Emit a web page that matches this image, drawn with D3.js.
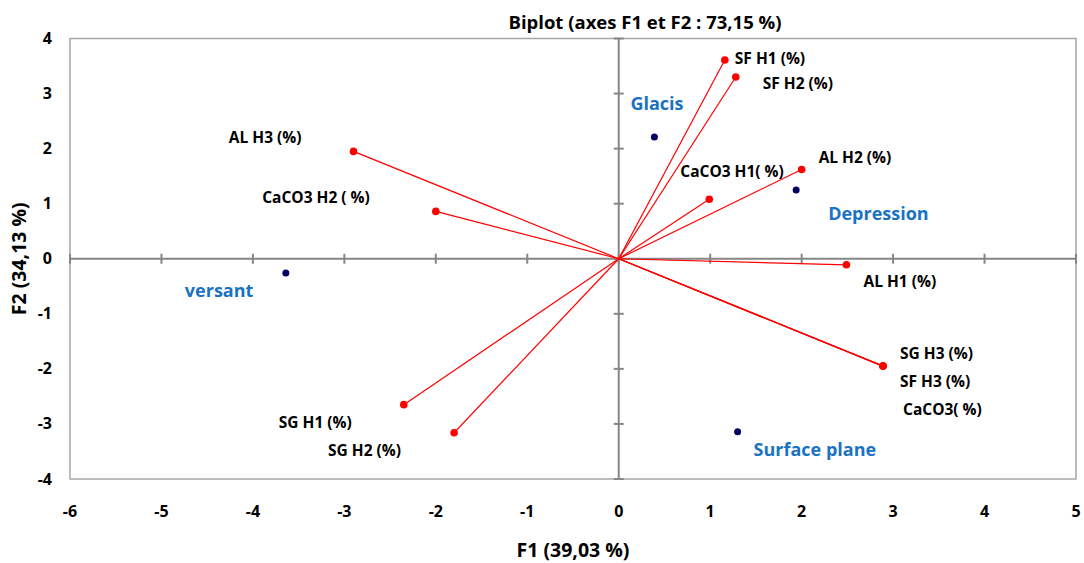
<!DOCTYPE html>
<html>
<head>
<meta charset="utf-8">
<script src="https://cdn.jsdelivr.net/npm/d3@7"></script>
<style>
  body { margin: 0; background: #fff; }
  svg text { font-family: "Open Sans", Lato, sans-serif; font-weight: bold; }
</style>
</head>
<body>
<svg id="chart" width="1084" height="563"></svg>
<script>
// variables (red vectors)
const varNames = ["SF H1 (%)", "SF H2 (%)", "AL H3 (%)", "CaCO3 H2 ( %)", "CaCO3 H1( %)", "AL H2 (%)",
  "AL H1 (%)", "SG H3 (%)", "SF H3 (%)", "CaCO3( %)", "SG H1 (%)", "SG H2 (%)"];
const varF1 = [1.16, 1.28, -2.90, -2.00, 0.99, 2.00, 2.49, 2.89, 2.89, 2.89, -2.35, -1.80];
const varF2 = [3.61, 3.30, 1.95, 0.86, 1.08, 1.62, -0.11, -1.95, -1.95, -1.95, -2.65, -3.16];

// observations (navy points)
const obsNames = ["Glacis", "Depression", "versant", "Surface plane"];
const obsF1 = [0.39, 1.94, -3.64, 1.30];
const obsF2 = [2.21, 1.25, -0.26, -3.14];

const xTicks = [-6, -5, -4, -3, -2, -1, 0, 1, 2, 3, 4, 5];
const yTicks = [-4, -3, -2, -1, 0, 1, 2, 3, 4];

// label offsets in px (dx, dy, anchor)
const varLabelPos = {
  "SF H1 (%)": [10, 0, "start"],
  "SF H2 (%)": [27, 8, "start"],
  "AL H3 (%)": [-52, -12, "end"],
  "CaCO3 H2 ( %)": [-66, -12, "end"],
  "CaCO3 H1( %)": [-29, -26, "start"],
  "AL H2 (%)": [17, -11, "start"],
  "AL H1 (%)": [17, 18, "start"],
  "SG H3 (%)": [17, -11, "start"],
  "SF H3 (%)": [17, 17, "start"],
  "CaCO3( %)": [20, 45, "start"],
  "SG H1 (%)": [-52, 19, "end"],
  "SG H2 (%)": [-53, 19, "end"]
};
const obsLabelPos = {
  "Glacis": [-24, -32, "start"],
  "Depression": [32, 25, "start"],
  "versant": [-101, 19, "start"],
  "Surface plane": [16, 19, "start"]
};

const margin = { top: 38.5, right: 8, bottom: 84, left: 70 };
const width = 1084, height = 563;

const x = d3.scaleLinear().domain([-6, 5]).range([margin.left, width - margin.right]);
const y = d3.scaleLinear().domain([-4, 4]).range([height - margin.bottom, margin.top]);

const svg = d3.select("#chart");

// plot frame
svg.append("rect")
  .attr("x", x(-6)).attr("y", y(4))
  .attr("width", x(5) - x(-6)).attr("height", y(-4) - y(4))
  .attr("fill", "none").attr("stroke", "#a6a6a6").attr("stroke-width", 1.5);

// zero axes
svg.append("line")
  .attr("x1", x(-6)).attr("x2", x(5)).attr("y1", y(0)).attr("y2", y(0))
  .attr("stroke", "#868686").attr("stroke-width", 2);
svg.append("line")
  .attr("x1", x(0)).attr("x2", x(0)).attr("y1", y(4)).attr("y2", y(-4))
  .attr("stroke", "#868686").attr("stroke-width", 2);

// tick marks crossing the zero axes
svg.selectAll(".xt").data(xTicks).enter().append("line")
  .attr("x1", d => x(d)).attr("x2", d => x(d))
  .attr("y1", y(0) - 5).attr("y2", y(0) + 5)
  .attr("stroke", "#868686").attr("stroke-width", 2);
svg.selectAll(".yt").data(yTicks).enter().append("line")
  .attr("x1", x(0) - 5).attr("x2", x(0) + 5)
  .attr("y1", d => y(d)).attr("y2", d => y(d))
  .attr("stroke", "#868686").attr("stroke-width", 2);

// tick labels
svg.selectAll(".xl").data(xTicks).enter().append("text")
  .attr("x", d => x(d)).attr("y", y(-4) + 38)
  .attr("text-anchor", "middle").attr("font-size", 16)
  .text(d => d);
svg.selectAll(".yl").data(yTicks).enter().append("text")
  .attr("x", 52).attr("y", d => y(d) + 5.5)
  .attr("text-anchor", "end").attr("font-size", 16)
  .text(d => d);

// titles
svg.append("text").attr("x", 645).attr("y", 29)
  .attr("text-anchor", "middle").attr("font-size", 18.5)
  .text("Biplot (axes F1 et F2 : 73,15 %)");
svg.append("text").attr("x", 573).attr("y", 557)
  .attr("text-anchor", "middle").attr("font-size", 19.5)
  .text("F1 (39,03 %)");
svg.append("text")
  .attr("transform", "translate(26," + y(0) + ") rotate(-90)")
  .attr("text-anchor", "middle").attr("font-size", 19.5)
  .text("F2 (34,13 %)");

// vectors
const vars = varNames.map((n, i) => ({ name: n, f1: varF1[i], f2: varF2[i] }));
svg.selectAll(".vec").data(vars).enter().append("line")
  .attr("x1", x(0)).attr("y1", y(0))
  .attr("x2", d => x(d.f1)).attr("y2", d => y(d.f2))
  .attr("stroke", "#ff0000").attr("stroke-width", 1.2);
svg.selectAll(".vdot").data(vars).enter().append("circle")
  .attr("cx", d => x(d.f1)).attr("cy", d => y(d.f2)).attr("r", 3.8)
  .attr("fill", "#ff0000");
svg.selectAll(".vlab").data(vars).enter().append("text")
  .attr("x", d => x(d.f1) + varLabelPos[d.name][0])
  .attr("y", d => y(d.f2) + varLabelPos[d.name][1] + 4)
  .attr("text-anchor", d => varLabelPos[d.name][2])
  .attr("font-size", 15.5).attr("fill", "#000")
  .text(d => d.name);

// observations
const obs = obsNames.map((n, i) => ({ name: n, f1: obsF1[i], f2: obsF2[i] }));
svg.selectAll(".odot").data(obs).enter().append("circle")
  .attr("cx", d => x(d.f1)).attr("cy", d => y(d.f2)).attr("r", 3.5)
  .attr("fill", "#000066");
svg.selectAll(".olab").data(obs).enter().append("text")
  .attr("x", d => x(d.f1) + obsLabelPos[d.name][0])
  .attr("y", d => y(d.f2) + obsLabelPos[d.name][1] + 5)
  .attr("text-anchor", d => obsLabelPos[d.name][2])
  .attr("font-size", 18).attr("fill", "#1a72c2")
  .text(d => d.name);
</script>
</body>
</html>
